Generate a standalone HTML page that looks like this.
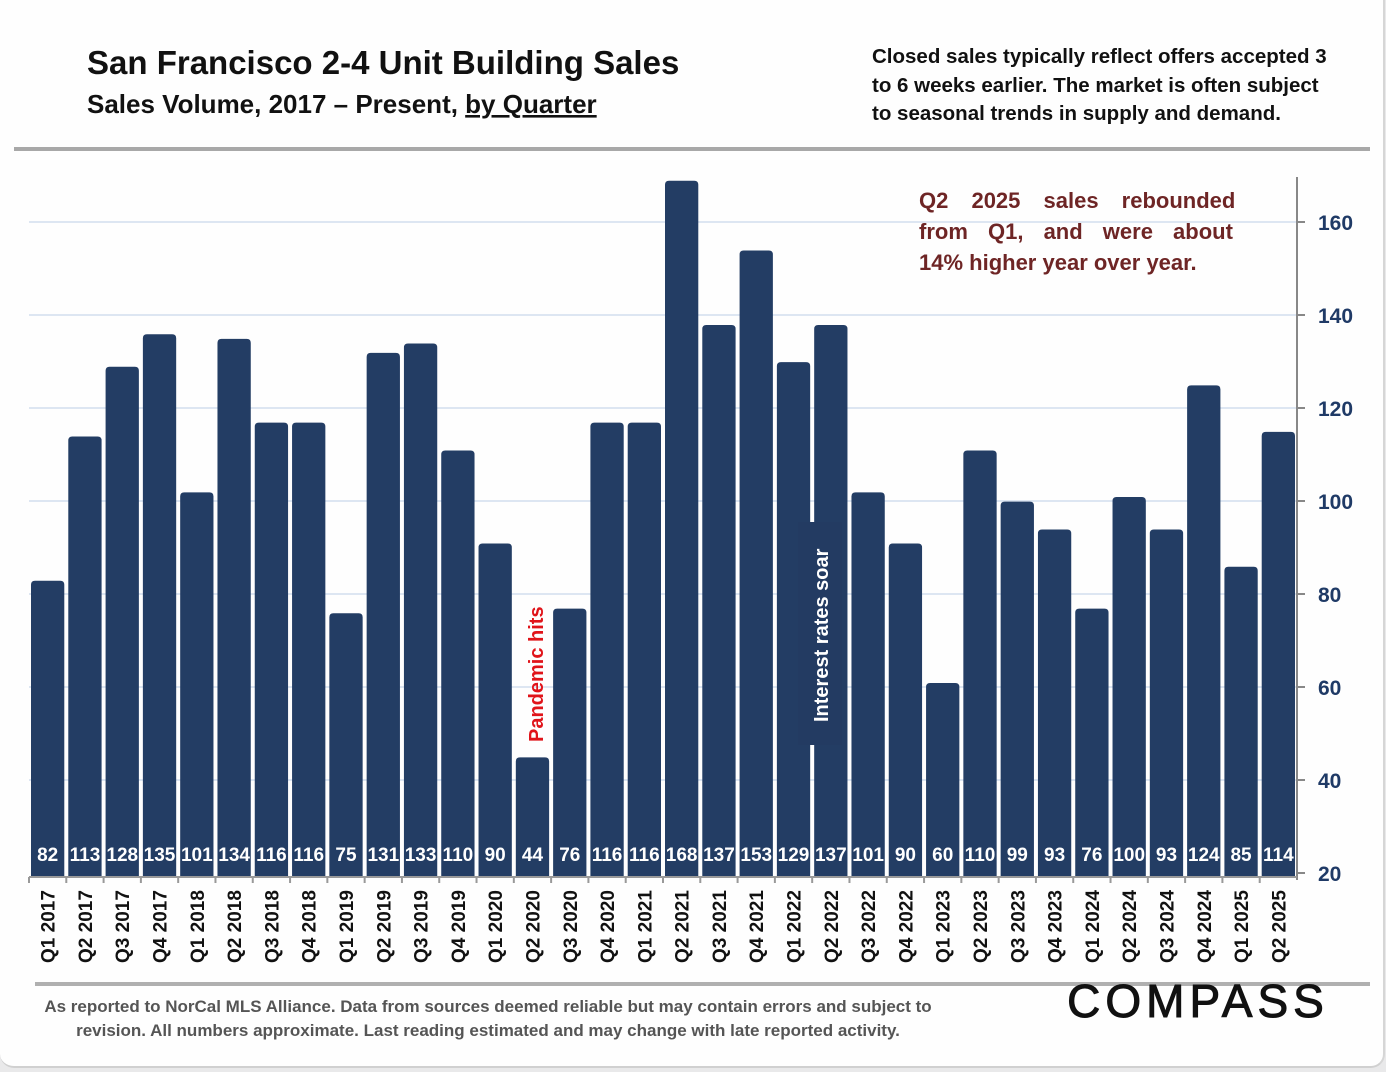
<!DOCTYPE html>
<html><head><meta charset="utf-8"><style>
body{margin:0;width:1386px;height:1072px;background:#e9e9ea;font-family:"Liberation Sans",sans-serif;overflow:hidden}
#card{position:absolute;left:0;top:0;width:1383px;height:1066px;background:#fefefe;border-radius:0 0 14px 14px;border-right:2px solid #d6d6d6;border-bottom:2px solid #d0d0d0}
</style></head><body>
<div id="card"></div>
<svg id="chart" width="1386" height="1072" style="position:absolute;left:0;top:0" font-family="Liberation Sans, sans-serif">
<text x="87" y="74" font-size="33" font-weight="bold" fill="#111">San Francisco 2-4 Unit Building Sales</text>
<text x="87" y="113" font-size="26" font-weight="bold" fill="#111">Sales Volume, 2017 – Present, <tspan text-decoration="underline">by Quarter</tspan></text>
<g font-size="20.5" font-weight="bold" fill="#111">
<text x="872" y="63">Closed sales typically reflect offers accepted 3</text>
<text x="872" y="92">to 6 weeks earlier. The market is often subject</text>
<text x="872" y="120">to seasonal trends in supply and demand.</text>
</g>
<rect x="14" y="147" width="1356" height="4" fill="#a8a8a8"/>
<g id="grid"></g>
<g id="bars"></g>
<line x1="1297" y1="177" x2="1297" y2="880" stroke="#888" stroke-width="2"/>
<line x1="29" y1="877" x2="1297" y2="877" stroke="#999" stroke-width="2"/>
<g id="yticks"></g>
<g id="xlabels"></g>
<g font-size="22" font-weight="bold" fill="#6e2525">
<text x="919" y="208" word-spacing="17">Q2 2025 sales rebounded</text>
<text x="919" y="239" word-spacing="14">from Q1, and were about</text>
<text x="919" y="270">14% higher year over year.</text>
</g>
<text transform="translate(543,742) rotate(-90)" font-size="20" font-weight="bold" fill="#e0141a">Pandemic hits</text>
<rect x="798" y="522" width="44" height="223" fill="#233b62"/>
<text transform="translate(828,722) rotate(-90)" font-size="20" font-weight="bold" fill="#fff">Interest rates soar</text>
<rect x="35" y="982" width="1335" height="4" fill="#b0b0b0"/>
<g font-size="17" font-weight="bold" fill="#555" text-anchor="middle">
<text x="488" y="1012">As reported to NorCal MLS Alliance. Data from sources deemed reliable but may contain errors and subject to</text>
<text x="488" y="1036">revision. All numbers approximate.  Last reading estimated and may change with late reported activity.</text>
</g>
<text x="1198" y="1017" font-size="46" fill="#111" stroke="#111" stroke-width="1" text-anchor="middle" letter-spacing="5">COMPASS</text>
</svg>
<script>
const categories=["Q1 2017","Q2 2017","Q3 2017","Q4 2017","Q1 2018","Q2 2018","Q3 2018","Q4 2018","Q1 2019","Q2 2019","Q3 2019","Q4 2019","Q1 2020","Q2 2020","Q3 2020","Q4 2020","Q1 2021","Q2 2021","Q3 2021","Q4 2021","Q1 2022","Q2 2022","Q3 2022","Q4 2022","Q1 2023","Q2 2023","Q3 2023","Q4 2023","Q1 2024","Q2 2024","Q3 2024","Q4 2024","Q1 2025","Q2 2025"];
const salesValues=[82,113,128,135,101,134,116,116,75,131,133,110,90,44,76,116,116,168,137,153,129,137,101,90,60,110,99,93,76,100,93,124,85,114];
const yTicks=[20,40,60,80,100,120,140,160];
const NS="http://www.w3.org/2000/svg";
const x0=29,x1=1297,yMin=20,yMax=160,py0=873,py1=222;
const pitch=(x1-x0)/categories.length;
function xPos(i){return x0+i*pitch;}
function yPos(v){return py0-(v-yMin)*(py0-py1)/(yMax-yMin);}
function mk(tag,attrs,parent){const e=document.createElementNS(NS,tag);for(const k in attrs)e.setAttribute(k,attrs[k]);parent.appendChild(e);return e;}
const grid=document.getElementById('grid'),yt=document.getElementById('yticks'),bars=document.getElementById('bars'),xl=document.getElementById('xlabels');
yTicks.forEach(t=>{
  const y=yPos(t);
  if(t>20){const g=mk('line',{x1:x0,x2:x1,y1:y,y2:y,stroke:'#dde6f2','stroke-width':2},grid);
  
  }
  const tk=mk('line',{x1:x1,x2:x1+8,y1:y,y2:y,stroke:'#888','stroke-width':2},yt);
  
  
  const tx=mk('text',{x:1318,y:y+8,'font-size':21,'font-weight':'bold',fill:'#1f3a66'},yt);
  tx.textContent=t;
  
  
});
salesValues.forEach((v,i)=>{
  const bx=xPos(i)+2,bw=pitch-4,top=yPos(v)-4;
  const r=mk('path',{d:`M${bx},877 V${top+4} Q${bx},${top} ${bx+4},${top} H${bx+bw-4} Q${bx+bw},${top} ${bx+bw},${top+4} V877 Z`,fill:'#233d64'},bars);
  
  
  const t=mk('text',{x:xPos(i)+pitch/2,y:861,'font-size':19,'font-weight':'bold',fill:'#fff','text-anchor':'middle'},bars);
  t.textContent=v;
  
  
  const tk=mk('line',{x1:xPos(i),x2:xPos(i),y1:877,y2:883,stroke:'#999','stroke-width':2},xl);
  
  
  const cx=xPos(i)+pitch/2+7;
  const l=mk('text',{transform:`translate(${cx},963) rotate(-90)`,'font-size':19,'font-weight':'bold',fill:'#111'},xl);
  l.textContent=categories[i];
  
  
});
</script>
</body></html>
